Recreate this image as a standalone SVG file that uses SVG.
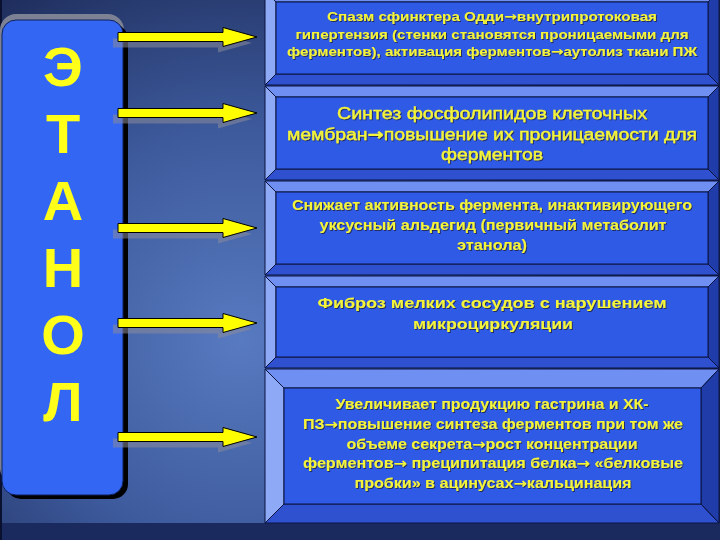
<svg xmlns="http://www.w3.org/2000/svg" width="720" height="540" viewBox="0 0 720 540">
<defs>
<radialGradient id="bg" gradientUnits="userSpaceOnUse" cx="240" cy="340" r="470">
<stop offset="0" stop-color="#587ac0"/>
<stop offset="0.45" stop-color="#3d5a9c"/>
<stop offset="1" stop-color="#16214a"/>
</radialGradient>
<filter id="ts" x="-5%" y="-30%" width="110%" height="160%">
<feDropShadow dx="1" dy="1" stdDeviation="0.4" flood-color="#202040" flood-opacity="0.8"/>
</filter>
<path id="arr" d="M0,-4.5 L105,-4.5 L105,-9.5 L139,0 L105,9.5 L105,4.5 L0,4.5 Z"/>
</defs>
<style>
.face{fill:#2e5ae6;stroke:#0a1440;stroke-width:1}
.bt{fill:#6f8ff2;stroke:#0a1440;stroke-width:1}
.bl{fill:#8eaaf6;stroke:#0a1440;stroke-width:1}
.bb{fill:#2f51d0;stroke:#0a1440;stroke-width:1}
.br{fill:#1f3ca8;stroke:#0a1440;stroke-width:1}
.t{font-family:"Liberation Sans",Arial,sans-serif;fill:#f4f43a;text-anchor:middle;filter:url(#ts)}
.b{font-weight:bold}
.m{stroke:#f4f43a;stroke-width:0.35}
.a{font-family:"DejaVu Sans",sans-serif;font-weight:bold}
.L{font-family:"Liberation Sans",Arial,sans-serif;font-weight:bold;font-size:56px;fill:#ffff1a;text-anchor:middle}
.ash{fill:#8a8a9a;opacity:0.55}
.ar{fill:#ffff00;stroke:#000;stroke-width:1}
</style>
<rect x="0" y="0" width="720" height="540" fill="url(#bg)"/>
<rect x="0" y="523" width="720" height="17" fill="#1b2a5e"/>
<rect x="0" y="0" width="2" height="540" fill="#0a1030"/>
<g id="etanol">
<rect x="0" y="14" width="124" height="470" rx="16" fill="#7c8294"/>
<rect x="6" y="24" width="122" height="475" rx="15" fill="#000"/>
<rect x="2" y="20" width="121" height="475" rx="14" fill="#3366f2" stroke="#10205a" stroke-width="1"/>
<text class="L" x="63" y="86">Э</text>
<text class="L" x="63" y="153">Т</text>
<text class="L" x="63" y="220">А</text>
<text class="L" x="63" y="287">Н</text>
<text class="L" x="63" y="354">О</text>
<text class="L" x="63" y="421">Л</text>
</g>
<g id="connectors">
<use href="#arr" class="ash" x="113" y="43"/>
<use href="#arr" class="ar" x="118" y="37"/>
<use href="#arr" class="ash" x="113" y="119"/>
<use href="#arr" class="ar" x="118" y="113"/>
<use href="#arr" class="ash" x="113" y="234"/>
<use href="#arr" class="ar" x="118" y="228"/>
<use href="#arr" class="ash" x="113" y="329"/>
<use href="#arr" class="ar" x="118" y="323"/>
<use href="#arr" class="ash" x="113" y="443"/>
<use href="#arr" class="ar" x="118" y="437"/>
</g>
<g id="box1">
<polygon class="bt" points="265,-9 719,-9 708,2 276,2"/>
<polygon class="bl" points="265,-9 276,2 276,74 265,85"/>
<polygon class="bb" points="265,85 276,74 708,74 719,85"/>
<polygon class="br" points="719,-9 719,85 708,74 708,2"/>
<rect class="face" x="276" y="2" width="432" height="72"/>
<text class="t b" font-size="13" x="492" y="21" textLength="330" lengthAdjust="spacingAndGlyphs">Спазм сфинктера Одди<tspan class="a">→</tspan>внутрипротоковая</text>
<text class="t b" font-size="13" x="492" y="39" textLength="393" lengthAdjust="spacingAndGlyphs">гипертензия (стенки становятся проницаемыми для</text>
<text class="t b" font-size="13" x="492" y="56" textLength="410" lengthAdjust="spacingAndGlyphs">ферментов), активация ферментов<tspan class="a">→</tspan>аутолиз ткани ПЖ</text>
</g>
<g id="box2">
<polygon class="bt" points="265,86 719,86 708,97 276,97"/>
<polygon class="bl" points="265,86 276,97 276,169 265,180"/>
<polygon class="bb" points="265,180 276,169 708,169 719,180"/>
<polygon class="br" points="719,86 719,180 708,169 708,97"/>
<rect class="face" x="276" y="97" width="432" height="72"/>
<text class="t m" font-size="16" x="492" y="119" textLength="310" lengthAdjust="spacingAndGlyphs">Синтез фосфолипидов клеточных</text>
<text class="t m" font-size="16" x="492" y="140" textLength="410" lengthAdjust="spacingAndGlyphs">мембран<tspan class="a">→</tspan>повышение их проницаемости для</text>
<text class="t m" font-size="16" x="492" y="160" textLength="102" lengthAdjust="spacingAndGlyphs">ферментов</text>
</g>
<g id="box3">
<polygon class="bt" points="265,181 719,181 708,192 276,192"/>
<polygon class="bl" points="265,181 276,192 276,264 265,275"/>
<polygon class="bb" points="265,275 276,264 708,264 719,275"/>
<polygon class="br" points="719,181 719,275 708,264 708,192"/>
<rect class="face" x="276" y="192" width="432" height="72"/>
<text class="t b" font-size="14" x="492" y="210" textLength="400" lengthAdjust="spacingAndGlyphs">Снижает активность фермента, инактивирующего</text>
<text class="t b" font-size="14" x="493" y="230" textLength="347" lengthAdjust="spacingAndGlyphs">уксусный альдегид (первичный метаболит</text>
<text class="t b" font-size="14" x="492" y="250" textLength="70" lengthAdjust="spacingAndGlyphs">этанола)</text>
</g>
<g id="box4">
<polygon class="bt" points="265,276 719,276 708,287 276,287"/>
<polygon class="bl" points="265,276 276,287 276,357 265,368"/>
<polygon class="bb" points="265,368 276,357 708,357 719,368"/>
<polygon class="br" points="719,276 719,368 708,357 708,287"/>
<rect class="face" x="276" y="287" width="432" height="70"/>
<text class="t b" font-size="15" x="492" y="308" textLength="349" lengthAdjust="spacingAndGlyphs">Фиброз мелких сосудов с нарушением</text>
<text class="t b" font-size="15" x="493" y="329" textLength="160" lengthAdjust="spacingAndGlyphs">микроциркуляции</text>
</g>
<g id="box5">
<polygon class="bt" points="265,369 719,369 701,388 284,388"/>
<polygon class="bl" points="265,369 284,388 284,504 265,523"/>
<polygon class="bb" points="265,523 284,504 701,504 719,523"/>
<polygon class="br" points="719,369 719,523 701,504 701,388"/>
<rect class="face" x="284" y="388" width="417" height="116"/>
<text class="t b" font-size="14" x="492" y="409" textLength="313" lengthAdjust="spacingAndGlyphs">Увеличивает продукцию гастрина и ХК-</text>
<text class="t b" font-size="14" x="493" y="429" textLength="380" lengthAdjust="spacingAndGlyphs">ПЗ<tspan class="a">→</tspan>повышение синтеза ферментов при том же</text>
<text class="t b" font-size="14" x="492" y="449" textLength="291" lengthAdjust="spacingAndGlyphs">объеме секрета<tspan class="a">→</tspan>рост концентрации</text>
<text class="t b" font-size="14" x="493" y="468" textLength="380" lengthAdjust="spacingAndGlyphs">ферментов<tspan class="a">→</tspan> преципитация белка<tspan class="a">→</tspan> «белковые</text>
<text class="t b" font-size="14" x="493" y="488" textLength="277" lengthAdjust="spacingAndGlyphs">пробки» в ацинусах<tspan class="a">→</tspan>кальцинация</text>
</g>
</svg>
